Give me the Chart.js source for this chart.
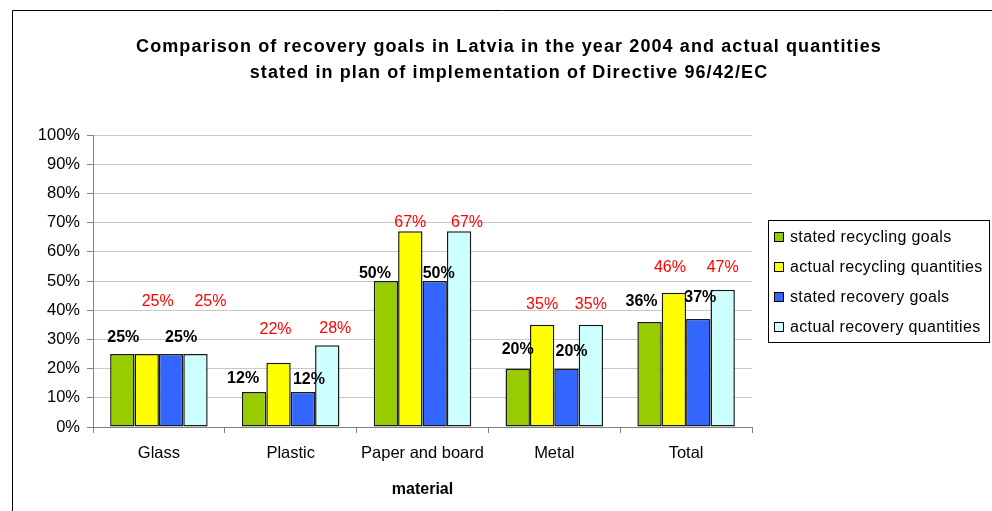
<!DOCTYPE html>
<html lang="en">
<head>
  <meta charset="UTF-8">
  <title>Recovery goals in Latvia 2004</title>
  <script src="https://cdn.jsdelivr.net/npm/chart.js"></script>
  <style>
    body {
      margin: 0;
      background: #ffffff;
      font-family: "Liberation Sans", Arial, sans-serif;
    }
    canvas {
      display: block;
    }
  </style>
</head>
<body>
  <canvas id="goalsChart" width="992" height="511"></canvas>

  <script>
    // Values (percent)
    const materials = ['Glass', 'Plastic', 'Paper and board', 'Metal', 'Total'];
    const statedRecycling = [25, 12, 50, 20, 36];
    const actualRecycling = [25, 22, 67, 35, 46];
    const statedRecovery = [25, 12, 50, 20, 37];
    const actualRecovery = [25, 28, 67, 35, 47];
    const yTicks = [0, 10, 20, 30, 40, 50, 60, 70, 80, 90, 100];

    const FONT = '"Liberation Sans", Arial, sans-serif';

    // label placement (pixels above bar top / sideways), mimics the Excel layout
    const labelLift = [
      [16, 13, 7, 19, 20],
      [52, 33, 9, 20, 25],
      [16, 12, 7, 17, 21],
      [52, 17, 9, 20, 22]
    ];
    const labelShift = [
      [1, -11, -11, 0, -8],
      [11, -3, 0, 0, -4],
      [10, 6, 4, 5, 2],
      [15, 8, 8, 0, 0]
    ];

    // frame, title, legend and value labels
    const decorations = {
      id: 'decorations',
      beforeDraw(chart) {
        const ctx = chart.ctx;
        ctx.save();
        ctx.strokeStyle = '#000';
        ctx.lineWidth = 1;
        ctx.beginPath();
        ctx.moveTo(12.5, 520);
        ctx.lineTo(12.5, 10.5);
        ctx.lineTo(1000, 10.5);
        ctx.stroke();

        ctx.fillStyle = '#000';
        ctx.font = 'bold 18px ' + FONT;
        ctx.letterSpacing = '1.1px';
        ctx.textAlign = 'center';
        ctx.textBaseline = 'middle';
        ctx.fillText('Comparison of recovery goals in Latvia in the year 2004 and actual quantities', 509, 47);
        ctx.fillText('stated in plan of implementation of Directive 96/42/EC', 509, 73);
        ctx.restore();
      },
      afterDatasetsDraw(chart) {
        const ctx = chart.ctx;
        ctx.save();
        ctx.textAlign = 'center';
        ctx.textBaseline = 'middle';
        chart.data.datasets.forEach((ds, i) => {
          const meta = chart.getDatasetMeta(i);
          const stated = (i === 0 || i === 2);
          ctx.font = (stated ? 'bold ' : '') + '16px ' + FONT;
          ctx.fillStyle = stated ? '#000' : '#ff0000';
          meta.data.forEach((bar, j) => {
            ctx.fillText(ds.data[j] + '%', bar.x + labelShift[i][j], bar.y - labelLift[i][j]);
          });
        });

        // legend box
        ctx.strokeStyle = '#000';
        ctx.lineWidth = 1;
        ctx.strokeRect(768.5, 220.5, 221, 122);
        ctx.font = '16px ' + FONT;
        ctx.letterSpacing = '0.35px';
        ctx.textAlign = 'left';
        chart.data.datasets.forEach((ds, i) => {
          const y = 237 + i * 30;
          ctx.fillStyle = ds.backgroundColor;
          ctx.fillRect(774, y - 5, 10, 10);
          ctx.strokeStyle = '#000';
          ctx.strokeRect(774.5, y - 4.5, 9, 9);
          ctx.fillStyle = '#000';
          ctx.fillText(ds.label, 790, y + 1);
        });
        ctx.restore();
      }
    };

    const barStyle = {
      borderColor: '#1a1a1a',
      borderWidth: 1.5,
      borderSkipped: false,
      categoryPercentage: 0.74,
      barPercentage: 1
    };

    const chartData = {
      labels: materials,
      datasets: [
        Object.assign({ label: 'stated recycling goals', data: statedRecycling, backgroundColor: '#99cc00' }, barStyle),
        Object.assign({ label: 'actual recycling quantities', data: actualRecycling, backgroundColor: '#ffff00' }, barStyle),
        Object.assign({ label: 'stated recovery goals', data: statedRecovery, backgroundColor: '#3366ff' }, barStyle),
        Object.assign({ label: 'actual recovery quantities', data: actualRecovery, backgroundColor: '#ccffff' }, barStyle)
      ]
    };

    const config = {
      type: 'bar',
      data: chartData,
      options: {
        responsive: false,
        animation: false,
        layout: {
          padding: { top: 135, right: 240, left: 0, bottom: 0 }
        },
        plugins: {
          legend: { display: false },
          title: { display: false },
          tooltip: { enabled: false }
        },
        scales: {
          x: {
            grid: {
              offset: true,
              drawOnChartArea: false,
              drawTicks: true,
              tickLength: 6,
              color: '#808080'
            },
            border: { color: '#808080', width: 1 },
            ticks: {
              color: '#000',
              font: { family: FONT, size: 16.5 },
              padding: 11
            },
            title: {
              display: true,
              text: 'material',
              color: '#000',
              font: { family: FONT, size: 16, weight: 'bold' },
              padding: { top: 6, bottom: 12 }
            },
            afterFit(scale) {
              scale.height = 84;
            }
          },
          y: {
            min: 0,
            max: 100,
            afterBuildTicks(scale) {
              scale.ticks = yTicks.map(v => ({ value: v }));
            },
            grid: {
              color: '#c8c8c8',
              tickColor: '#808080',
              tickLength: 6,
              lineWidth: 1
            },
            border: { color: '#808080', width: 1 },
            ticks: {
              color: '#000',
              font: { family: FONT, size: 16.5 },
              padding: 7,
              callback: v => v + '%'
            },
            afterFit(scale) {
              scale.width = 93;
            }
          }
        }
      },
      plugins: [decorations]
    };

    const goalsChart = new Chart(document.getElementById('goalsChart'), config);
  </script>
</body>
</html>
